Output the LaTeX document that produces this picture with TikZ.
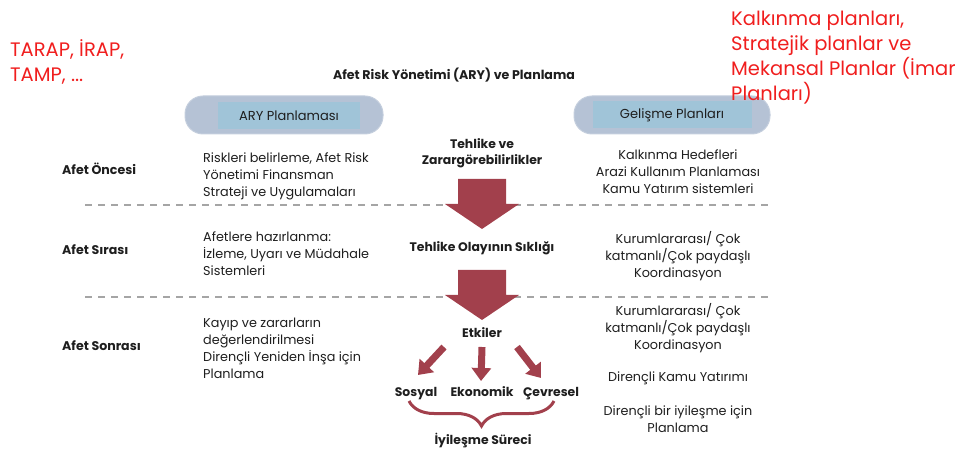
\documentclass[tikz,border=0pt]{standalone}
\usepackage{fontspec}
\setmainfont{Poppins}
\usetikzlibrary{arrows.meta,decorations.pathreplacing}
\definecolor{arrowred}{RGB}{162,64,76}
\definecolor{pillout}{RGB}{181,194,213}
\definecolor{pillin}{RGB}{160,196,216}
\definecolor{notered}{RGB}{240,30,30}
\definecolor{sepgray}{RGB}{165,165,165}
\definecolor{txt}{RGB}{30,30,30}
\begin{document}
\begin{tikzpicture}[x=1pt,y=-1pt,
  every node/.style={inner sep=0pt, text=txt},
  body/.style={font=\fontsize{12.8}{17}\selectfont},
  bodyc/.style={body, align=center},
  bodyl/.style={body, align=left, anchor=west},
  phase/.style={font=\bfseries\fontsize{12.6}{14}\selectfont, anchor=west},
  flow/.style={font=\bfseries\fontsize{12.4}{16}\selectfont, align=center},
  note/.style={font=\fontsize{19.5}{25}\selectfont, text=notered, align=left, anchor=west},
  pill/.style={fill=pillout, draw=pillout!80!white, line width=1pt, rounded corners=18pt, minimum width=198pt, minimum height=38pt},
  pillbox/.style={fill=pillin, minimum height=27pt, font=\fontsize{13}{14}\selectfont},
  sepline/.style={draw=sepgray, line width=1.4pt, dash pattern=on 7pt off 6pt},
  bigarrow/.style={fill=arrowred},
  smallarrow/.style={draw=arrowred, line width=7pt, -{Triangle[width=19pt,length=13pt]}},
  bracestyle/.style={draw=arrowred, line width=3pt, decorate, decoration={brace, mirror, amplitude=25pt}}
]
\useasboundingbox (0,0) rectangle (961,454);

% title
\node[font=\bfseries\fontsize{12.6}{14}\selectfont] (title) at (454,75) {Afet Risk Yönetimi (ARY) ve Planlama};

% pills
\node[pill] (p1) at (284,115) {};
\node[pillbox, minimum width=142pt] (p1t) at (289,116) {ARY Planlaması};
\node[pill, minimum width=196pt] (p2) at (672,115) {};
\node[pillbox, minimum width=159pt] (p2t) at (672,115) {Gelişme Planları};

% red notes (drawn over the pills)
\node[note] (n1) at (10,62) {TARAP, İRAP,\\TAMP, ...};
\node[note] (n2) at (731,58) {Kalkınma planları,\\Stratejik planlar ve\\Mekansal Planlar (İmar\\Planları)};

% phases
\node[phase] (ph1) at (62,169) {Afet Öncesi};
\node[phase] (ph2) at (62,250) {Afet Sırası};
\node[phase] (ph3) at (62,346) {Afet Sonrası};

% separators
\coordinate (s1a) at (85,205); \coordinate (s1b) at (770,205);
\coordinate (s2a) at (85,297); \coordinate (s2b) at (770,297);
\draw[sepline] (s1a) -- (s1b);
\draw[sepline] (s2a) -- (s2b);

% left column
\node[bodyl] (l1) at (203,176) {Riskleri belirleme, Afet Risk\\Yönetimi Finansman\\Strateji ve Uygulamaları};
\node[bodyl] (l2) at (203,254) {Afetlere hazırlanma:\\İzleme, Uyarı ve Müdahale\\Sistemleri};
\node[bodyl] (l3) at (203,348) {Kayıp ve zararların\\değerlendirilmesi\\Dirençli Yeniden İnşa için\\Planlama};

% right column
\node[bodyc] (r1) at (678,172) {Kalkınma Hedefleri\\Arazi Kullanım Planlaması\\Kamu Yatırım sistemleri};
\node[bodyc] (r2) at (678,256) {Kurumlararası/ Çok\\katmanlı/Çok paydaşlı\\Koordinasyon};
\node[bodyc] (r3) at (678,328) {Kurumlararası/ Çok\\katmanlı/Çok paydaşlı\\Koordinasyon};
\node[bodyc] (r4) at (678,378) {Dirençli Kamu Yatırımı};
\node[bodyc] (r5) at (678,419) {Dirençli bir iyileşme için\\Planlama};

% center flow
\node[flow] (c1) at (482,153) {Tehlike ve\\Zarargörebilirlikler};
\node[flow] (c2) at (482,248) {Tehlike Olayının Sıklığı};
\node[flow] (c3) at (482,333) {Etkiler};
\node[flow, anchor=base] (e1) at (416,396) {Sosyal};
\node[flow, anchor=base] (e2) at (482,396) {Ekonomik};
\node[flow, anchor=base] (e3) at (551,396) {Çevresel};
\node[flow] (c4) at (483,441) {İyileşme Süreci};

% big arrows
\fill[bigarrow] (458,179) -- (506,179) -- (506,204) -- (519,204) -- (482,229) -- (445,204) -- (458,204) -- cycle;
\fill[bigarrow] (458,270) -- (506,270) -- (506,295) -- (519,295) -- (482,320) -- (445,295) -- (458,295) -- cycle;

% small arrows
\coordinate (a1s) at (444,347); \coordinate (a1e) at (418,375);
\coordinate (a2s) at (482,347); \coordinate (a2e) at (481,381);
\coordinate (a3s) at (517,347); \coordinate (a3e) at (541,378);
\draw[smallarrow] (a1s) -- (a1e);
\draw[smallarrow] (a2s) -- (a2e);
\draw[smallarrow] (a3s) -- (a3e);

% brace
\coordinate (b1) at (409,401); \coordinate (b2) at (554,401);
\draw[bracestyle] (b1) -- (b2);
\end{tikzpicture}
\end{document}
